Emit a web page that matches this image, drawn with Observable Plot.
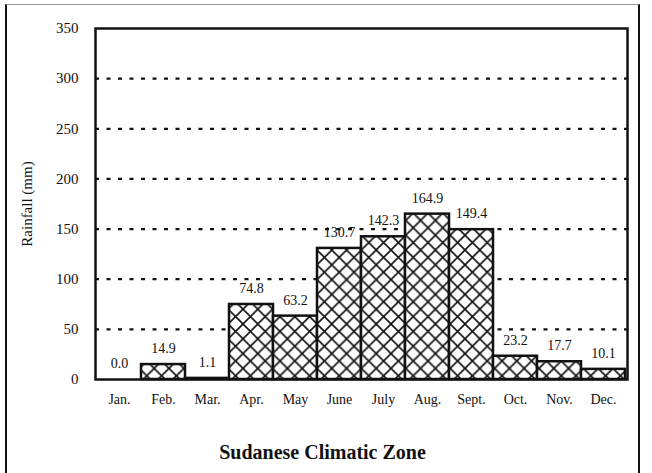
<!DOCTYPE html>
<html>
<head>
<meta charset="utf-8">
<script src="https://cdn.jsdelivr.net/npm/d3@7"></script>
<script src="https://cdn.jsdelivr.net/npm/@observablehq/plot@0.6"></script>
<style>
  html, body { margin: 0; padding: 0; background: #fff; }
  #wrap { position: relative; width: 652px; height: 473px; overflow: hidden; font-family: "Liberation Serif", "Times New Roman", serif; }
  #border { position: absolute; left: 5px; top: 4px; width: 631px; height: 480px; border-left: 2px solid #111; border-right: 2px solid #111; border-top: 1px solid #999; }
  #chart { position: absolute; left: 0; top: 0; }
  #title { position: absolute; left: 6px; width: 633px; top: 441px; text-align: center; font-family: "Liberation Serif", serif; font-weight: bold; font-size: 20px; color: #111; line-height: 1.1; }
</style>
</head>
<body>
<div id="wrap">
  <div id="border"></div>
  <div id="chart"></div>
  <div id="title">Sudanese Climatic Zone</div>
</div>
<script>
const months = ["Jan.", "Feb.", "Mar.", "Apr.", "May", "June", "July", "Aug.", "Sept.", "Oct.", "Nov.", "Dec."];
const rainfall = [0.0, 14.9, 1.1, 74.8, 63.2, 130.7, 142.3, 164.9, 149.4, 23.2, 17.7, 10.1];
const yTicks = [0, 50, 100, 150, 200, 250, 300, 350];
const gridValues = [50, 100, 150, 200, 250, 300];

const data = months.map((m, i) => ({month: m, value: rainfall[i]}));

const defs = () => {
  const svg = d3.create("svg:defs");
  const p = svg.append("pattern")
    .attr("id", "xhatch")
    .attr("patternUnits", "userSpaceOnUse")
    .attr("width", 14.8)
    .attr("height", 14.8)
    .attr("x", 95)
    .attr("y", 28);
  p.append("rect").attr("width", 14.8).attr("height", 14.8).attr("fill", "#fff");
  p.append("path")
    .attr("d", "M-1,-1L15.8,15.8M15.8,-1L-1,15.8")
    .attr("stroke", "#111")
    .attr("stroke-width", 1.6)
    .attr("fill", "none");
  return svg.node();
};

const chart = Plot.plot({
  width: 652,
  height: 473,
  marginLeft: 95,
  marginRight: 25,
  marginTop: 28,
  marginBottom: 94,
  style: {fontFamily: "'Liberation Serif', 'Times New Roman', serif", background: "transparent", color: "#111"},
  x: {domain: months, padding: 0, label: null},
  y: {domain: [0, 350], label: null},
  marks: [
    defs,
    Plot.ruleY(gridValues, {stroke: "#111", strokeWidth: 2.2, strokeDasharray: "4,7.5"}),
    Plot.barY(data, {x: "month", y: "value", fill: "url(#xhatch)", stroke: "#111", strokeWidth: 2.5}),
    Plot.text(data, {x: "month", y: "value", text: d => d.value.toFixed(1), dy: -16, fontSize: 14, fill: "#111"}),
    Plot.frame({stroke: "#111", strokeWidth: 2.5}),
    Plot.axisY({ticks: yTicks, tickSize: 0, tickPadding: 17, fontSize: 15, label: "Rainfall (mm)", labelAnchor: "center", labelArrow: "none", labelOffset: 74}),
    Plot.axisX({tickSize: 0, tickPadding: 15, fontSize: 14, label: null})
  ]
});
document.getElementById("chart").appendChild(chart);
</script>
</body>
</html>
